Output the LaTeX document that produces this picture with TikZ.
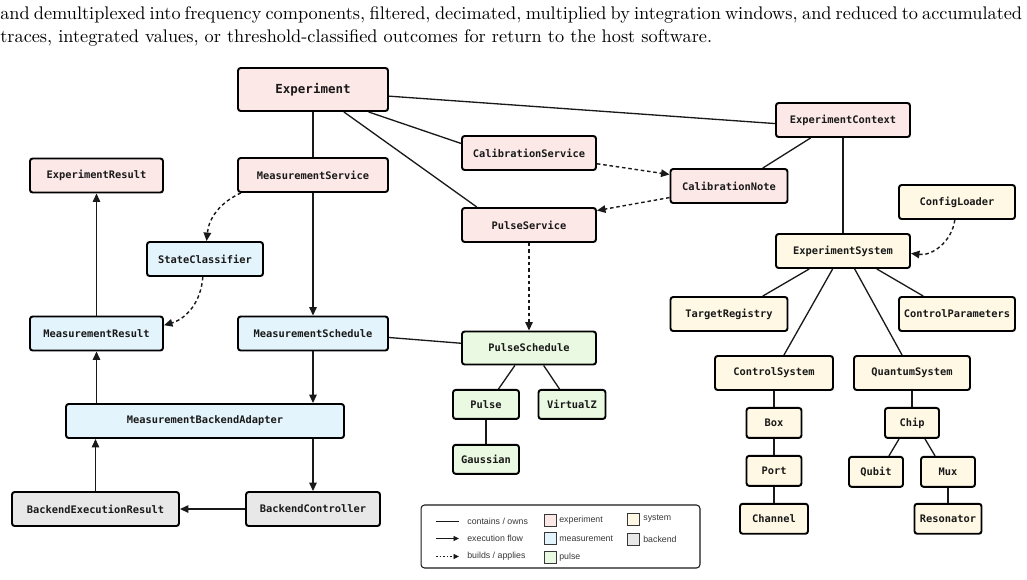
\documentclass[tikz,border=0pt]{standalone}
\usepackage{fontspec}
\setmonofont{DejaVu Sans Mono}
\newfontfamily\legendfont{Liberation Sans}
\usepackage{tikz}
\usetikzlibrary{positioning,arrows.meta}
\definecolor{expFill}{RGB}{253, 232, 232}
\definecolor{measFill}{RGB}{228, 244, 252}
\definecolor{pulseFill}{RGB}{234, 249, 225}
\definecolor{sysFill}{RGB}{254, 248, 228}
\definecolor{backFill}{RGB}{232, 232, 232}
\definecolor{inkDark}{RGB}{25, 25, 25}
\definecolor{legendInk}{RGB}{55, 55, 55}

\begin{document}
\begin{tikzpicture}[x=0.02cm, y=-0.02cm,
          box/.style={draw=black, line width=1.1pt, rounded corners=1.5pt, minimum height=0.68cm, inner sep=0pt, align=center, text=inkDark, font=\ttfamily\bfseries\fontsize{5.9}{7}\selectfont},
          leaf/.style={box, minimum height=0.6cm},
          owns/.style={line width=0.75pt, inkDark},
          flow/.style={-{Triangle[length=1.7mm,width=1.5mm]}, line width=0.8pt, inkDark},
          builds/.style={flow, dash pattern=on 2pt off 1.6pt},
          swatch/.style={draw=legendInk, line width=0.4pt, minimum size=0.24cm, inner sep=0pt},
          legtext/.style={anchor=west, inner sep=0pt, text=legendInk, font=\legendfont\fontsize{5}{6}\selectfont}
        ]
          \useasboundingbox (0,0) rectangle (1027,579);
          \node[anchor=north west, inner sep=0pt, text width=20.44cm, align=justify, font=\fontsize{10.4}{13.1}\selectfont] (intro) at (0,6.5)
            {and demultiplexed into frequency components, filtered, decimated, multiplied by integration windows, and reduced to accumulated\linebreak traces, integrated values, or threshold-classified outcomes for return to the host software.};

          % experiment layer
          \node[box, fill=expFill, minimum width=3cm, minimum height=0.86cm, font=\ttfamily\bfseries\fontsize{7.1}{8}\selectfont] (exp) at (313,89.5) {Experiment};
          \node[box, fill=expFill, minimum width=3cm] (msvc) at (313,175) {MeasurementService};
          \node[box, fill=expFill, minimum width=2.66cm] (eres) at (96.5,175.5) {ExperimentResult};
          \node[box, fill=expFill, minimum width=2.68cm] (calsvc) at (529,153) {CalibrationService};
          \node[box, fill=expFill, minimum width=2.68cm] (psvc) at (529,225) {PulseService};
          \node[box, fill=expFill, minimum width=2.34cm] (calnote) at (729,186) {CalibrationNote};
          \node[box, fill=expFill, minimum width=2.68cm] (ctx) at (843,120) {ExperimentContext};

          % measurement and backend
          \node[box, fill=measFill, minimum width=2.32cm] (scls) at (205,259) {StateClassifier};
          \node[box, fill=measFill, minimum width=2.66cm] (mres) at (96.5,333.5) {MeasurementResult};
          \node[box, fill=measFill, minimum width=3cm] (msched) at (313,333.5) {MeasurementSchedule};
          \node[box, fill=measFill, minimum width=5.56cm] (adapt) at (205,421) {MeasurementBackendAdapter};
          \node[box, fill=backFill, minimum width=3.34cm] (bres) at (95.5,509) {BackendExecutionResult};
          \node[box, fill=backFill, minimum width=2.68cm] (bctl) at (313,509) {BackendController};

          % pulse
          \node[box, fill=pulseFill, minimum width=2.68cm, minimum height=0.66cm] (psched) at (529,348) {PulseSchedule};
          \node[leaf, fill=pulseFill, minimum width=1.32cm, minimum height=0.58cm, below=0.47cm of psched, xshift=-0.86cm] (pulse) {Pulse};
          \node[leaf, fill=pulseFill, minimum width=1.34cm, minimum height=0.58cm, below=0.47cm of psched, xshift=0.86cm] (virtz) {VirtualZ};
          \node[leaf, fill=pulseFill, minimum width=1.32cm, minimum height=0.58cm, below=0.48cm of pulse] (gauss) {Gaussian};

          % system
          \node[box, fill=sysFill, minimum width=2.32cm] (cfg) at (957,202) {ConfigLoader};
          \node[box, fill=sysFill, minimum width=2.68cm] (sys) at (843,251) {ExperimentSystem};
          \node[box, fill=sysFill, minimum width=2.34cm] (treg) at (729,314) {TargetRegistry};
          \node[box, fill=sysFill, minimum width=2.32cm] (cpar) at (957,314) {ControlParameters};
          \node[box, fill=sysFill, minimum width=2.36cm] (csys) at (774,373) {ControlSystem};
          \node[box, fill=sysFill, minimum width=2.32cm] (qsys) at (912,373) {QuantumSystem};
          \node[leaf, fill=sysFill, minimum width=1.1cm, below=0.32cm of csys] (box) {Box};
          \node[leaf, fill=sysFill, minimum width=1.1cm, below=0.32cm of box] (port) {Port};
          \node[leaf, fill=sysFill, minimum width=1.36cm, below=0.32cm of port] (chan) {Channel};
          \node[leaf, fill=sysFill, minimum width=1.08cm, below=0.32cm of qsys] (chip) {Chip};
          \node[leaf, fill=sysFill, minimum width=1.08cm, below=0.34cm of chip, xshift=-0.72cm] (qubit) {Qubit};
          \node[leaf, fill=sysFill, minimum width=1.08cm, below=0.34cm of chip, xshift=0.72cm] (mux) {Mux};
          \node[leaf, fill=sysFill, minimum width=1.34cm, below=0.3cm of mux] (reson) {Resonator};

          % contains / owns
          \draw[owns] (exp.-5) -- (ctx.183);
          \draw[owns] (exp.-22) -- (calsvc.172);
          \draw[owns] (exp.-36.5) -- (psvc.161);
          \draw[owns] (exp) -- (msvc);
          \draw[owns] (ctx.209) -- (calnote.28);
          \draw[owns] (ctx) -- (sys);
          \draw[owns] (sys.208) -- (treg.28);
          \draw[owns] (sys.-28) -- (cpar.152);
          \draw[owns] (sys.240) -- (csys.61);
          \draw[owns] (sys.-57) -- (qsys.119);
          \draw[owns] (csys) -- (box);
          \draw[owns] (box) -- (port);
          \draw[owns] (port) -- (chan);
          \draw[owns] (qsys) -- (chip);
          \draw[owns] (chip.231) -- (qubit.51);
          \draw[owns] (chip.-51) -- (mux.129);
          \draw[owns] (mux) -- (reson);
          \draw[owns] (msched.-3.4) -- (psched.176.6);
          \draw[owns] (psched.231) -- (pulse.51);
          \draw[owns] (psched.-50) -- (virtz.129);
          \draw[owns] (pulse) -- (gauss);

          % execution flow
          \draw[flow] (msvc) -- (msched);
          \draw[flow] (msched) -- (msched |- adapt.north);
          \draw[flow] (adapt.south -| bctl) -- (bctl);
          \draw[flow] (bctl) -- (bres);
          \draw[flow] (bres) -- (bres |- adapt.south);
          \draw[flow] (adapt.north -| mres) -- (mres);
          \draw[flow] (mres) -- (eres);

          % builds / applies
          \draw[builds] (msvc.194) to[bend right=30] (scls.85);
          \draw[builds] (scls.263) to[bend left=35] (mres.7);
          \draw[builds] (calsvc.-9) -- (calnote.169);
          \draw[builds] (calnote.191) -- (psvc.12);
          \draw[builds] (psvc) -- (psched);
          \draw[builds] (cfg.263) to[bend left=45] (sys.-2);

          % legend
          \node[draw=inkDark, line width=0.6pt, rounded corners=2pt, minimum width=5.58cm, minimum height=1.26cm, inner sep=0pt] (legend) at (560.5,536.5) {};
          \coordinate (ownsA) at (436,521);
          \coordinate (ownsB) at (459,521);
          \coordinate (flowA) at (436,538.5);
          \coordinate (flowB) at (459,538.5);
          \coordinate (buildsA) at (436,556.5);
          \coordinate (buildsB) at (459,556.5);
          \draw[owns, line width=0.5pt] (ownsA) -- (ownsB);
          \draw[flow, line width=0.5pt, -{Triangle[length=1.1mm,width=1mm]}] (flowA) -- (flowB);
          \draw[builds, line width=0.5pt, dash pattern=on 1pt off 1pt, -{Triangle[length=1.1mm,width=1mm]}] (buildsA) -- (buildsB);
          \node[legtext] (ownsT) at (467,521) {contains / owns};
          \node[legtext] (flowT) at (467,538.5) {execution flow};
          \node[legtext] (buildsT) at (467,556.5) {builds / applies};
          \node[swatch, fill=expFill] (swExp) at (550,520) {};
          \node[swatch, fill=measFill] (swMeas) at (550,538.5) {};
          \node[swatch, fill=pulseFill] (swPulse) at (550,557) {};
          \node[swatch, fill=sysFill] (swSys) at (633.5,519) {};
          \node[swatch, fill=backFill] (swBack) at (633.5,539.5) {};
          \node[legtext] (expT) at (559,520) {experiment};
          \node[legtext] (measT) at (559,538.5) {measurement};
          \node[legtext] (pulseT) at (559,557) {pulse};
          \node[legtext] (sysT) at (643,519) {system};
          \node[legtext] (backT) at (643,539.5) {backend};
        \end{tikzpicture}
\end{document}
